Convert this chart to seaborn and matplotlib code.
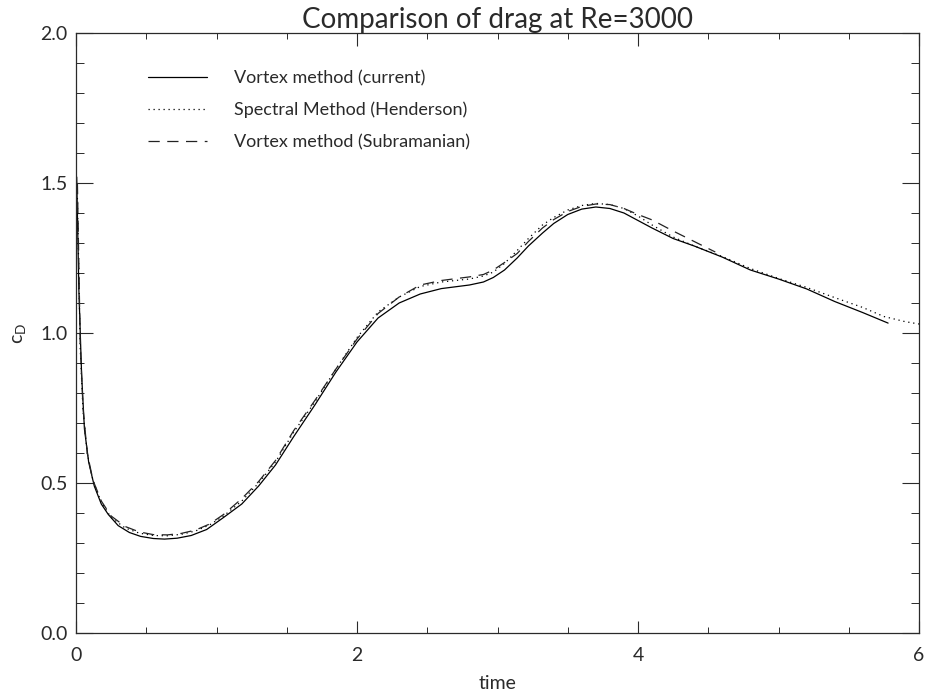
import matplotlib
matplotlib.use("Agg")
import matplotlib.pyplot as plt
import seaborn as sns
import pandas as pd
from matplotlib.ticker import MultipleLocator, FormatStrFormatter

# ---- data ----
t_current = [0.005, 0.02, 0.04, 0.06, 0.09, 0.13, 0.18, 0.23, 0.3, 0.38, 0.46, 0.55, 0.63, 0.72,
             0.82, 0.93, 1.05, 1.18, 1.3, 1.42, 1.55, 1.7, 1.85, 2.0, 2.15, 2.3, 2.45, 2.6, 2.8,
             2.9, 2.97, 3.05, 3.14, 3.22, 3.32, 3.4, 3.5, 3.6, 3.7, 3.8, 3.9, 4.0, 4.1, 4.25, 4.4,
             4.6, 4.8, 5.0, 5.2, 5.4, 5.6, 5.78]
cd_current = [1.52, 1.15, 0.86, 0.68, 0.57, 0.49, 0.43, 0.395, 0.358, 0.335, 0.322, 0.315, 0.313,
              0.316, 0.325, 0.345, 0.385, 0.43, 0.49, 0.56, 0.655, 0.76, 0.87, 0.97, 1.05, 1.10,
              1.13, 1.148, 1.16, 1.17, 1.185, 1.21, 1.25, 1.29, 1.333, 1.365, 1.395, 1.413, 1.42,
              1.415, 1.40, 1.375, 1.35, 1.315, 1.29, 1.253, 1.21, 1.18, 1.147, 1.105, 1.068, 1.033]

t_spectral = [0.01, 0.03, 0.05, 0.08, 0.12, 0.18, 0.25, 0.35, 0.45, 0.55, 0.65, 0.75, 0.85, 0.95,
              1.05, 1.18, 1.3, 1.42, 1.55, 1.7, 1.85, 2.0, 2.15, 2.3, 2.45, 2.6, 2.8, 2.9, 2.97,
              3.05, 3.14, 3.22, 3.32, 3.4, 3.5, 3.6, 3.7, 3.8, 3.9, 4.0, 4.1, 4.25, 4.4, 4.6, 4.8,
              5.0, 5.2, 5.4, 5.6, 5.75, 5.9, 6.0]
cd_spectral = [1.45, 0.95, 0.74, 0.6, 0.51, 0.435, 0.385, 0.35, 0.333, 0.325, 0.324, 0.329, 0.34,
               0.36, 0.39, 0.44, 0.5, 0.57, 0.67, 0.77, 0.88, 0.985, 1.07, 1.12, 1.155, 1.17,
               1.18, 1.19, 1.203, 1.232, 1.275, 1.315, 1.36, 1.385, 1.41, 1.425, 1.432, 1.428,
               1.415, 1.39, 1.36, 1.32, 1.29, 1.255, 1.215, 1.182, 1.152, 1.118, 1.085, 1.055,
               1.038, 1.03]

t_subram = [0.01, 0.03, 0.05, 0.08, 0.12, 0.18, 0.25, 0.35, 0.45, 0.55, 0.65, 0.75, 0.85, 0.95,
            1.05, 1.18, 1.3, 1.42, 1.55, 1.7, 1.85, 2.0, 2.15, 2.3, 2.45, 2.6, 2.8, 2.9, 2.97,
            3.05, 3.14, 3.22, 3.32, 3.4, 3.5, 3.6, 3.7, 3.8, 3.9, 4.0, 4.1, 4.25, 4.4, 4.55]
cd_subram = [1.5, 0.97, 0.75, 0.6, 0.51, 0.44, 0.39, 0.355, 0.337, 0.328, 0.327, 0.332, 0.343,
             0.363, 0.395, 0.448, 0.505, 0.575, 0.675, 0.775, 0.88, 0.98, 1.065, 1.12, 1.16,
             1.175, 1.187, 1.195, 1.21, 1.235, 1.265, 1.305, 1.35, 1.378, 1.405, 1.422, 1.43,
             1.428, 1.415, 1.395, 1.377, 1.34, 1.305, 1.27]

labels = ["Vortex method (current)", "Spectral Method (Henderson)", "Vortex method (Subramanian)"]
title = "Comparison of drag at Re=3000"

df = pd.concat([
    pd.DataFrame({"time": t_current, "cd": cd_current, "series": labels[0]}),
    pd.DataFrame({"time": t_spectral, "cd": cd_spectral, "series": labels[1]}),
    pd.DataFrame({"time": t_subram, "cd": cd_subram, "series": labels[2]}),
], ignore_index=True)

sns.set_style("ticks")
plt.rcParams['font.family'] = ['Lato', 'DejaVu Sans']
plt.rcParams['mathtext.fontset'] = 'custom'
plt.rcParams['mathtext.rm'] = 'Lato'
plt.rcParams['mathtext.it'] = 'Lato'

fig = plt.figure(figsize=(9.26, 6.94), dpi=100)
ax = fig.add_axes([76/926, 61/694, 843/926, 600/694])

sns.lineplot(data=df, x="time", y="cd", hue="series", style="series",
             palette=["black", "black", "#222222"],
             dashes={labels[0]: "", labels[1]: (1, 3), labels[2]: (9, 6)},
             linewidth=0.9, sort=False, estimator=None, ax=ax, legend=True)

ax.set_xlim(0, 6)
ax.set_ylim(0, 2.0)
ax.xaxis.set_major_locator(MultipleLocator(2))
ax.xaxis.set_minor_locator(MultipleLocator(0.5))
ax.yaxis.set_major_locator(MultipleLocator(0.5))
ax.yaxis.set_minor_locator(MultipleLocator(0.1))
ax.xaxis.set_major_formatter(FormatStrFormatter('%d'))
ax.yaxis.set_major_formatter(FormatStrFormatter('%.1f'))

tc = "#2a2a2a"
ax.tick_params(axis='x', which='major', direction='in', length=9, width=0.8,
               top=True, bottom=True, labelsize=14, pad=10, colors=tc)
ax.tick_params(axis='x', which='minor', direction='in', length=4.5, width=0.7,
               top=True, bottom=True, colors=tc)
ax.tick_params(axis='y', which='major', direction='in', length=12, width=0.8,
               left=True, right=True, labelsize=14, pad=6, colors=tc)
ax.tick_params(axis='y', which='minor', direction='in', length=6, width=0.7,
               left=True, right=True, colors=tc)
for s in ax.spines.values():
    s.set_visible(True)
    s.set_linewidth(0.9)
    s.set_color(tc)

ax.set_xlabel("time", fontsize=14, color=tc, labelpad=8)
ax.set_ylabel(r"c$_{\mathrm{D}}$", fontsize=14, color=tc, labelpad=9)
ax.set_title(title, fontsize=20, color=tc, pad=3)

leg = ax.legend(loc="upper left", bbox_to_anchor=(0.085, 0.938), frameon=False,
                fontsize=13, handlelength=3.3, handletextpad=1.5, labelspacing=0.86,
                borderpad=0, borderaxespad=0)
for txt in leg.get_texts():
    txt.set_color(tc)
for ln in leg.get_lines():
    ln.set_linewidth(0.9)

fig.savefig("out.png", dpi=100)
